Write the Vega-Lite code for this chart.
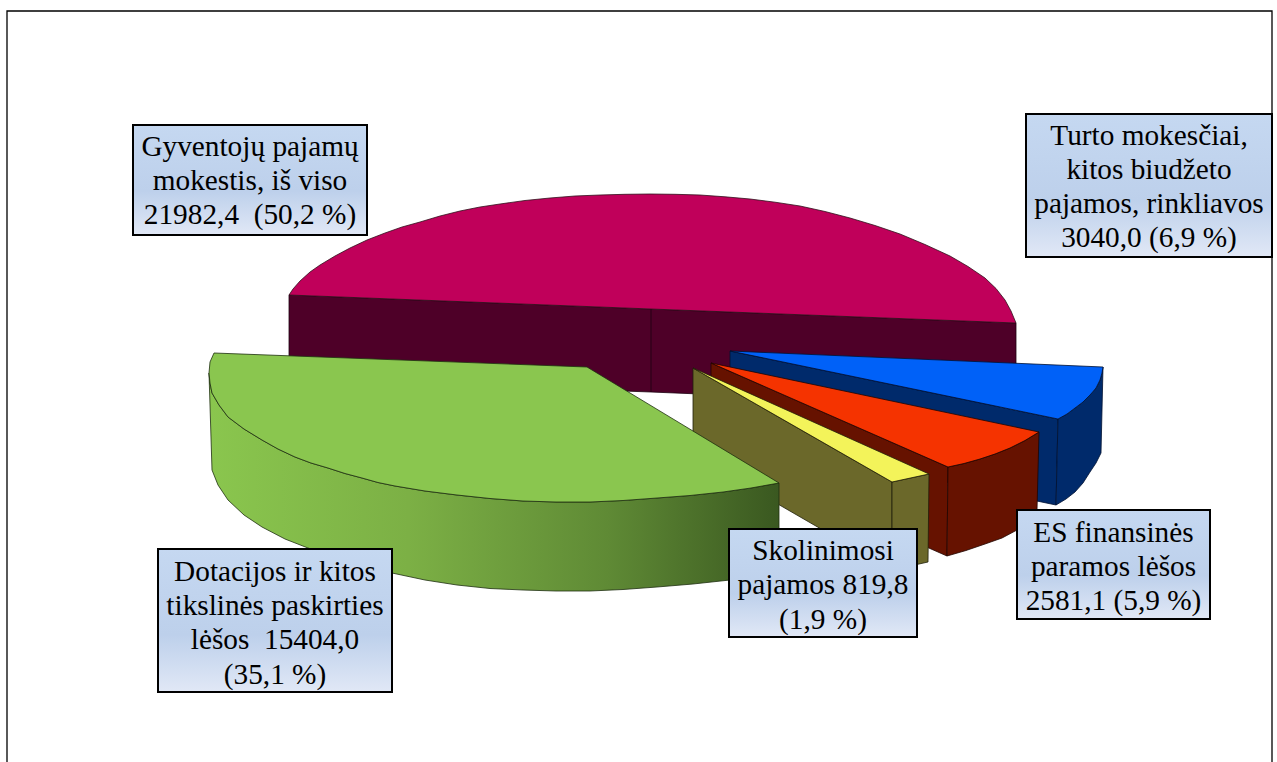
{"$schema":"https://vega.github.io/schema/vega-lite/v6.json","width":1277,"height":762,"autosize":{"type":"none"},"padding":0,"background":"white","view":{"stroke":null},
"datasets":{
"outlines":[
{"s":"frame","i":0,"px":7,"py":762},{"s":"frame","i":1,"px":7,"py":11},{"s":"frame","i":2,"px":1272,"py":11},{"s":"frame","i":3,"px":1272,"py":762},
{"s":"pinkSide","i":0,"px":289,"py":295},{"s":"pinkSide","i":1,"px":651,"py":309},{"s":"pinkSide","i":2,"px":1016,"py":323},{"s":"pinkSide","i":3,"px":1016,"py":407},{"s":"pinkSide","i":4,"px":651,"py":392},{"s":"pinkSide","i":5,"px":289,"py":379},{"s":"pinkSide","i":6,"px":289,"py":295},
{"s":"pinkDiv","i":0,"px":651,"py":309},{"s":"pinkDiv","i":1,"px":651,"py":392},
{"s":"pinkTop","i":0,"px":289,"py":295},{"s":"pinkTop","i":1,"px":293,"py":289},{"s":"pinkTop","i":2,"px":300,"py":281},{"s":"pinkTop","i":3,"px":310,"py":272},{"s":"pinkTop","i":4,"px":320,"py":265},{"s":"pinkTop","i":5,"px":335,"py":256},{"s":"pinkTop","i":6,"px":350,"py":248},{"s":"pinkTop","i":7,"px":367,"py":240},{"s":"pinkTop","i":8,"px":385,"py":233},{"s":"pinkTop","i":9,"px":402,"py":227},{"s":"pinkTop","i":10,"px":420,"py":222},{"s":"pinkTop","i":11,"px":440,"py":216},{"s":"pinkTop","i":12,"px":460,"py":211},{"s":"pinkTop","i":13,"px":480,"py":207},{"s":"pinkTop","i":14,"px":500,"py":204},{"s":"pinkTop","i":15,"px":525,"py":200.5},{"s":"pinkTop","i":16,"px":550,"py":198},{"s":"pinkTop","i":17,"px":575,"py":196},{"s":"pinkTop","i":18,"px":600,"py":195},{"s":"pinkTop","i":19,"px":625,"py":194.3},{"s":"pinkTop","i":20,"px":650,"py":194},{"s":"pinkTop","i":21,"px":675,"py":194.3},{"s":"pinkTop","i":22,"px":700,"py":195},{"s":"pinkTop","i":23,"px":725,"py":196.8},{"s":"pinkTop","i":24,"px":750,"py":199},{"s":"pinkTop","i":25,"px":775,"py":202.2},{"s":"pinkTop","i":26,"px":800,"py":206},{"s":"pinkTop","i":27,"px":825,"py":211.5},{"s":"pinkTop","i":28,"px":850,"py":218},{"s":"pinkTop","i":29,"px":875,"py":225.5},{"s":"pinkTop","i":30,"px":900,"py":234},{"s":"pinkTop","i":31,"px":925,"py":244.5},{"s":"pinkTop","i":32,"px":950,"py":256},{"s":"pinkTop","i":33,"px":968,"py":266.5},{"s":"pinkTop","i":34,"px":985,"py":278},{"s":"pinkTop","i":35,"px":996,"py":288.5},{"s":"pinkTop","i":36,"px":1005,"py":300},{"s":"pinkTop","i":37,"px":1011,"py":311},{"s":"pinkTop","i":38,"px":1016,"py":323},{"s":"pinkTop","i":39,"px":651,"py":309},{"s":"pinkTop","i":40,"px":289,"py":295},
{"s":"blueIn","i":0,"px":730,"py":351},{"s":"blueIn","i":1,"px":1058,"py":419},{"s":"blueIn","i":2,"px":1056,"py":505},{"s":"blueIn","i":3,"px":730,"py":437},{"s":"blueIn","i":4,"px":730,"py":351},
{"s":"blueOut","i":0,"px":1058,"py":419},{"s":"blueOut","i":1,"px":1067,"py":414},{"s":"blueOut","i":2,"px":1075,"py":408},{"s":"blueOut","i":3,"px":1083,"py":402},{"s":"blueOut","i":4,"px":1090,"py":395},{"s":"blueOut","i":5,"px":1096,"py":388},{"s":"blueOut","i":6,"px":1100,"py":380},{"s":"blueOut","i":7,"px":1102,"py":373},{"s":"blueOut","i":8,"px":1103,"py":367},{"s":"blueOut","i":9,"px":1101,"py":453},{"s":"blueOut","i":10,"px":1096,"py":463},{"s":"blueOut","i":11,"px":1090,"py":472},{"s":"blueOut","i":12,"px":1083,"py":483},{"s":"blueOut","i":13,"px":1075,"py":492},{"s":"blueOut","i":14,"px":1066,"py":499},{"s":"blueOut","i":15,"px":1056,"py":505},{"s":"blueOut","i":16,"px":1058,"py":419},
{"s":"blueTop","i":0,"px":730,"py":351},{"s":"blueTop","i":1,"px":1103,"py":367},{"s":"blueTop","i":2,"px":1102,"py":373},{"s":"blueTop","i":3,"px":1100,"py":380},{"s":"blueTop","i":4,"px":1096,"py":388},{"s":"blueTop","i":5,"px":1090,"py":395},{"s":"blueTop","i":6,"px":1083,"py":402},{"s":"blueTop","i":7,"px":1075,"py":408},{"s":"blueTop","i":8,"px":1067,"py":414},{"s":"blueTop","i":9,"px":1058,"py":419},{"s":"blueTop","i":10,"px":730,"py":351},
{"s":"redIn","i":0,"px":711,"py":363},{"s":"redIn","i":1,"px":948,"py":467},{"s":"redIn","i":2,"px":947,"py":556},{"s":"redIn","i":3,"px":711,"py":452},{"s":"redIn","i":4,"px":711,"py":363},
{"s":"redOut","i":0,"px":948,"py":467},{"s":"redOut","i":1,"px":964,"py":463.5},{"s":"redOut","i":2,"px":980,"py":459},{"s":"redOut","i":3,"px":995,"py":454},{"s":"redOut","i":4,"px":1010,"py":448},{"s":"redOut","i":5,"px":1025,"py":440.5},{"s":"redOut","i":6,"px":1039,"py":432},{"s":"redOut","i":7,"px":1037,"py":510},{"s":"redOut","i":8,"px":1028,"py":521},{"s":"redOut","i":9,"px":1017,"py":530},{"s":"redOut","i":10,"px":1002,"py":538},{"s":"redOut","i":11,"px":985,"py":544},{"s":"redOut","i":12,"px":966,"py":550.5},{"s":"redOut","i":13,"px":947,"py":556},{"s":"redOut","i":14,"px":948,"py":467},
{"s":"redTop","i":0,"px":711,"py":363},{"s":"redTop","i":1,"px":1039,"py":432},{"s":"redTop","i":2,"px":1025,"py":440.5},{"s":"redTop","i":3,"px":1010,"py":448},{"s":"redTop","i":4,"px":995,"py":454},{"s":"redTop","i":5,"px":980,"py":459},{"s":"redTop","i":6,"px":964,"py":463.5},{"s":"redTop","i":7,"px":948,"py":467},{"s":"redTop","i":8,"px":711,"py":363},
{"s":"oliveIn","i":0,"px":693,"py":368},{"s":"oliveIn","i":1,"px":892,"py":482},{"s":"oliveIn","i":2,"px":892,"py":570},{"s":"oliveIn","i":3,"px":693,"py":455},{"s":"oliveIn","i":4,"px":693,"py":368},
{"s":"oliveOut","i":0,"px":892,"py":482},{"s":"oliveOut","i":1,"px":929,"py":474},{"s":"oliveOut","i":2,"px":928,"py":562},{"s":"oliveOut","i":3,"px":892,"py":570},{"s":"oliveOut","i":4,"px":892,"py":482},
{"s":"yellowTop","i":0,"px":693,"py":368},{"s":"yellowTop","i":1,"px":929,"py":474},{"s":"yellowTop","i":2,"px":892,"py":482},{"s":"yellowTop","i":3,"px":693,"py":368},
{"s":"greenSide","i":0,"px":209,"py":373},{"s":"greenSide","i":1,"px":210,"py":383},{"s":"greenSide","i":2,"px":212,"py":393},{"s":"greenSide","i":3,"px":219,"py":405},{"s":"greenSide","i":4,"px":228,"py":417},{"s":"greenSide","i":5,"px":244,"py":429},{"s":"greenSide","i":6,"px":262,"py":440},{"s":"greenSide","i":7,"px":278,"py":449},{"s":"greenSide","i":8,"px":295,"py":457},{"s":"greenSide","i":9,"px":311,"py":463},{"s":"greenSide","i":10,"px":328,"py":468},{"s":"greenSide","i":11,"px":345,"py":473.5},{"s":"greenSide","i":12,"px":362,"py":478},{"s":"greenSide","i":13,"px":378,"py":482.5},{"s":"greenSide","i":14,"px":395,"py":486},{"s":"greenSide","i":15,"px":425,"py":491},{"s":"greenSide","i":16,"px":457,"py":495},{"s":"greenSide","i":17,"px":490,"py":498.5},{"s":"greenSide","i":18,"px":523,"py":501},{"s":"greenSide","i":19,"px":556,"py":502},{"s":"greenSide","i":20,"px":590,"py":502},{"s":"greenSide","i":21,"px":623,"py":500.5},{"s":"greenSide","i":22,"px":657,"py":498},{"s":"greenSide","i":23,"px":690,"py":495.5},{"s":"greenSide","i":24,"px":723,"py":492},{"s":"greenSide","i":25,"px":751,"py":488},{"s":"greenSide","i":26,"px":779,"py":483},{"s":"greenSide","i":27,"px":779,"py":568},{"s":"greenSide","i":28,"px":755,"py":574.5},{"s":"greenSide","i":29,"px":730,"py":580},{"s":"greenSide","i":30,"px":693,"py":584},{"s":"greenSide","i":31,"px":657,"py":587},{"s":"greenSide","i":32,"px":623,"py":589.5},{"s":"greenSide","i":33,"px":590,"py":591},{"s":"greenSide","i":34,"px":556,"py":591},{"s":"greenSide","i":35,"px":523,"py":590},{"s":"greenSide","i":36,"px":490,"py":588.5},{"s":"greenSide","i":37,"px":457,"py":585},{"s":"greenSide","i":38,"px":425,"py":580},{"s":"greenSide","i":39,"px":392,"py":573},{"s":"greenSide","i":40,"px":350,"py":562},{"s":"greenSide","i":41,"px":308,"py":548},{"s":"greenSide","i":42,"px":285,"py":539},{"s":"greenSide","i":43,"px":262,"py":527},{"s":"greenSide","i":44,"px":244,"py":515},{"s":"greenSide","i":45,"px":228,"py":500},{"s":"greenSide","i":46,"px":218,"py":485},{"s":"greenSide","i":47,"px":212,"py":470},{"s":"greenSide","i":48,"px":209,"py":373},
{"s":"greenTop","i":0,"px":214,"py":353},{"s":"greenTop","i":1,"px":587,"py":367},{"s":"greenTop","i":2,"px":779,"py":483},{"s":"greenTop","i":3,"px":751,"py":488},{"s":"greenTop","i":4,"px":723,"py":492},{"s":"greenTop","i":5,"px":690,"py":495.5},{"s":"greenTop","i":6,"px":657,"py":498},{"s":"greenTop","i":7,"px":623,"py":500.5},{"s":"greenTop","i":8,"px":590,"py":502},{"s":"greenTop","i":9,"px":556,"py":502},{"s":"greenTop","i":10,"px":523,"py":501},{"s":"greenTop","i":11,"px":490,"py":498.5},{"s":"greenTop","i":12,"px":457,"py":495},{"s":"greenTop","i":13,"px":425,"py":491},{"s":"greenTop","i":14,"px":395,"py":486},{"s":"greenTop","i":15,"px":378,"py":482.5},{"s":"greenTop","i":16,"px":362,"py":478},{"s":"greenTop","i":17,"px":345,"py":473.5},{"s":"greenTop","i":18,"px":328,"py":468},{"s":"greenTop","i":19,"px":311,"py":463},{"s":"greenTop","i":20,"px":295,"py":457},{"s":"greenTop","i":21,"px":278,"py":449},{"s":"greenTop","i":22,"px":262,"py":440},{"s":"greenTop","i":23,"px":244,"py":429},{"s":"greenTop","i":24,"px":228,"py":417},{"s":"greenTop","i":25,"px":219,"py":405},{"s":"greenTop","i":26,"px":212,"py":393},{"s":"greenTop","i":27,"px":210,"py":383},{"s":"greenTop","i":28,"px":209,"py":373},{"s":"greenTop","i":29,"px":210,"py":362},{"s":"greenTop","i":30,"px":214,"py":353}
],
"labels":[
{"category":"Gyventojų pajamų mokestis, iš viso","value":21982.4,"pct":50.2,"x1":133,"x2":367,"y1":125,"y2":235,"cx":250,"cy":146.5,"label":"Gyventojų pajamų\nmokestis, iš viso\n21982,4 \u00a0(50,2 %)"},
{"category":"Turto mokesčiai, kitos biudžeto pajamos, rinkliavos","value":3040.0,"pct":6.9,"x1":1026,"x2":1272,"y1":114,"y2":257,"cx":1149,"cy":135.5,"label":"Turto mokesčiai,\nkitos biudžeto\npajamos, rinkliavos\n3040,0 (6,9 %)"},
{"category":"Dotacijos ir kitos tikslinės paskirties lėšos","value":15404.0,"pct":35.1,"x1":158,"x2":392,"y1":549,"y2":692,"cx":275,"cy":571.75,"label":"Dotacijos ir kitos\ntikslinės paskirties\nlėšos \u00a015404,0\n(35,1 %)"},
{"category":"Skolinimosi pajamos","value":819.8,"pct":1.9,"x1":729,"x2":917,"y1":529,"y2":637,"cx":823,"cy":551,"label":"Skolinimosi\npajamos 819,8\n(1,9 %)"},
{"category":"ES finansinės paramos lėšos","value":2581.1,"pct":5.9,"x1":1017,"x2":1210,"y1":510,"y2":619,"cx":1113.5,"cy":532.5,"label":"ES finansinės\nparamos lėšos\n2581,1 (5,9 %)"}
]},
"encoding":{
"x":{"field":"px","type":"quantitative","axis":null,"scale":{"domain":[0,1277],"nice":false,"zero":false}},
"y":{"field":"py","type":"quantitative","axis":null,"scale":{"domain":[762,0],"nice":false,"zero":false}},
"order":{"field":"i","type":"quantitative"}
},
"data":{"name":"outlines"},
"layer":[
{"transform":[{"filter":"datum.s==='frame'"}],"mark":{"type":"line","stroke":"#000000","strokeWidth":1.3}},
{"transform":[{"filter":"datum.s==='pinkSide'"}],"mark":{"type":"line","fill":"#4e0028","stroke":"#1c0010","strokeWidth":0.8}},
{"transform":[{"filter":"datum.s==='pinkDiv'"}],"mark":{"type":"line","stroke":"#1c0010","strokeWidth":0.8}},
{"transform":[{"filter":"datum.s==='pinkTop'"}],"mark":{"type":"line","fill":"#c0005a","stroke":"#30101c","strokeWidth":0.8}},
{"transform":[{"filter":"datum.s==='blueIn'"}],"mark":{"type":"line","fill":"#002a6b","stroke":"#001030","strokeWidth":0.8}},
{"transform":[{"filter":"datum.s==='blueOut'"}],"mark":{"type":"line","fill":"#002a6b","stroke":"#001030","strokeWidth":0.8}},
{"transform":[{"filter":"datum.s==='blueTop'"}],"mark":{"type":"line","fill":"#0061f8","stroke":"#001030","strokeWidth":0.8}},
{"transform":[{"filter":"datum.s==='redIn'"}],"mark":{"type":"line","fill":"#661200","stroke":"#200500","strokeWidth":0.8}},
{"transform":[{"filter":"datum.s==='redOut'"}],"mark":{"type":"line","fill":"#661200","stroke":"#200500","strokeWidth":0.8}},
{"transform":[{"filter":"datum.s==='redTop'"}],"mark":{"type":"line","fill":"#f53300","stroke":"#200500","strokeWidth":0.8}},
{"transform":[{"filter":"datum.s==='oliveIn'"}],"mark":{"type":"line","fill":"#6b682a","stroke":"#20200a","strokeWidth":0.8}},
{"transform":[{"filter":"datum.s==='oliveOut'"}],"mark":{"type":"line","fill":"#6b682a","stroke":"#20200a","strokeWidth":0.8}},
{"transform":[{"filter":"datum.s==='yellowTop'"}],"mark":{"type":"line","fill":"#f3f35a","stroke":"#20200a","strokeWidth":0.8}},
{"transform":[{"filter":"datum.s==='greenSide'"}],"mark":{"type":"line","strokeWidth":0.8,"stroke":"#1e2e10","fill":{"gradient":"linear","x1":0,"x2":1,"y1":0,"y2":0,"stops":[{"offset":0,"color":"#8ac64e"},{"offset":0.35,"color":"#7cb045"},{"offset":0.7,"color":"#5f8a35"},{"offset":1,"color":"#3a5820"}]}}},
{"transform":[{"filter":"datum.s==='greenTop'"}],"mark":{"type":"line","fill":"#8ac64f","stroke":"#1e2e10","strokeWidth":0.8}},
{"data":{"name":"labels"},"mark":{"type":"rect","stroke":"#000000","strokeWidth":2,"fill":{"gradient":"linear","x1":0,"x2":0,"y1":0,"y2":1,"stops":[{"offset":0,"color":"#c5d8f1"},{"offset":0.6,"color":"#bdd0eb"},{"offset":1,"color":"#e1e8f6"}]}},"encoding":{"order":null,"x":{"field":"x1","type":"quantitative","axis":null,"scale":{"domain":[0,1277],"nice":false,"zero":false}},"x2":{"field":"x2"},"y":{"field":"y1","type":"quantitative","axis":null,"scale":{"domain":[762,0],"nice":false,"zero":false}},"y2":{"field":"y2"}}},
{"data":{"name":"labels"},"mark":{"type":"text","font":"Liberation Serif","fontSize":29.3,"color":"#000000","align":"center","baseline":"middle","lineBreak":"\n","lineHeight":34.3},"encoding":{"order":null,"x":{"field":"cx","type":"quantitative","axis":null,"scale":{"domain":[0,1277],"nice":false,"zero":false}},"y":{"field":"cy","type":"quantitative","axis":null,"scale":{"domain":[762,0],"nice":false,"zero":false}},"text":{"field":"label","type":"nominal"}}}
]}
